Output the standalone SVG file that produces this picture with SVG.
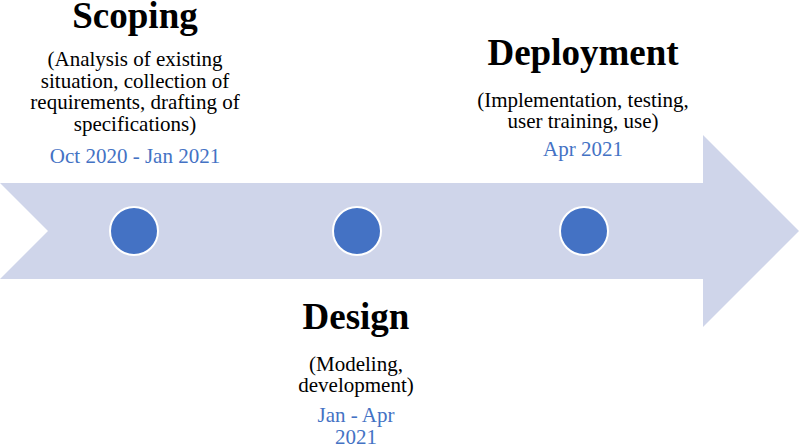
<svg xmlns="http://www.w3.org/2000/svg" width="800" height="448" viewBox="0 0 800 448">
<style>
.title{font-family:"Liberation Serif","Times New Roman",serif;font-weight:bold;font-size:37px;fill:#000;text-anchor:middle}
.desc{font-family:"Liberation Serif","Times New Roman",serif;font-size:21px;fill:#000;text-anchor:middle}
.date{font-family:"Liberation Serif","Times New Roman",serif;font-size:21px;fill:#4472C4;text-anchor:middle}
.dot{fill:#4472C4;stroke:#fff;stroke-width:2}
</style>
<rect width="800" height="448" fill="#fff"/>
<g id="connectors">
<polygon points="0,183 703,183 703,135 799,231 703,327 703,279 0,279 48,231" fill="#CFD5EA"/>
</g>
<g id="scoping">
<circle class="dot" cx="134" cy="231" r="24"/>
<text class="title" x="135" y="28">Scoping</text>
<text class="desc" x="135" y="66">(Analysis of existing</text>
<text class="desc" x="135" y="87.5">situation, collection of</text>
<text class="desc" x="135" y="109">requirements, drafting of</text>
<text class="desc" x="135" y="131">specifications)</text>
<text class="date" x="135" y="163">Oct 2020 - Jan 2021</text>
</g>
<g id="design">
<circle class="dot" cx="357" cy="231" r="24"/>
<text class="title" x="356" y="329">Design</text>
<text class="desc" x="356" y="370.5">(Modeling,</text>
<text class="desc" x="356" y="391.5">development)</text>
<text class="date" x="356" y="421.5">Jan - Apr</text>
<text class="date" x="356" y="444">2021</text>
</g>
<g id="deployment">
<circle class="dot" cx="584" cy="231" r="24"/>
<text class="title" x="583" y="65">Deployment</text>
<text class="desc" x="583" y="106.5">(Implementation, testing,</text>
<text class="desc" x="583" y="127.5">user training, use)</text>
<text class="date" x="583" y="156">Apr 2021</text>
</g>
</svg>
